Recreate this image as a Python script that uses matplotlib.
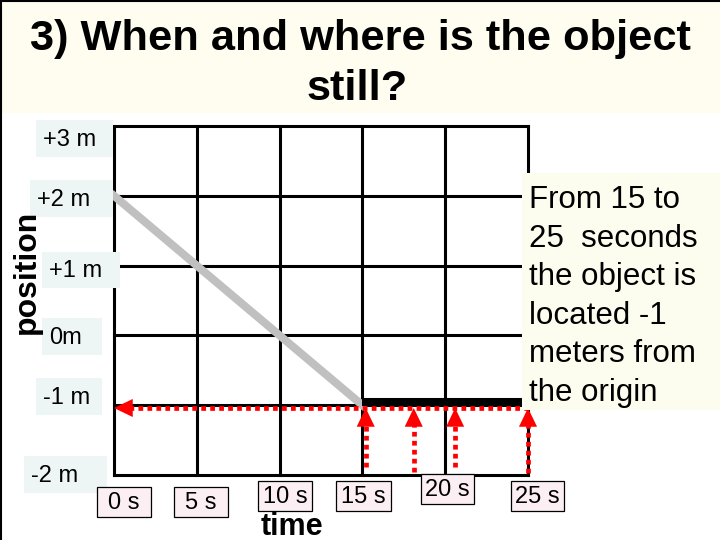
import matplotlib
matplotlib.use('Agg')
import matplotlib.pyplot as plt
from matplotlib.patches import Rectangle

plt.rcParams['font.family'] = ['Liberation Sans', 'DejaVu Sans']

# --- data ---
grid_times = [0, 5, 10, 15, 20, 25]
grid_positions = [-2, -1, 0, 1, 2, 3]
moving_t = [0, 15]
moving_x = [2, -1]
still_t = [15, 25]
still_x = [-0.95, -0.95]
marker_level = -1.04
arrow_times = [15.2, 18.1, 20.6, 25]
arrow_starts = [-1.88, -1.96, -1.88, -1.97]
time_labels = ['0 s', '5 s', '10 s', '15 s', '20 s', '25 s']
pos_labels = ['+3 m', '+2 m', '+1 m', '0m', '-1 m', '-2 m']
note = "From 15 to\n25  seconds\nthe object is\nlocated -1\nmeters from\nthe origin"

# label boxes in pixels (x0, y0, x1, y1)
pos_boxes = [(36, 120, 113, 157), (30, 180, 113, 217), (42, 252, 120, 288),
             (42, 318, 102, 355), (36, 378, 102, 415), (24, 456, 107, 493)]
time_boxes = [(97, 487, 151, 517), (174, 487, 228, 517), (258, 481, 312, 511),
              (336, 481, 391, 511), (421, 474, 474, 504), (511, 481, 564, 511)]

W, H = 720, 540
fig = plt.figure(figsize=(7.2, 5.4), dpi=100)
fig.patch.set_facecolor('white')

# grid axes: 0..25 s -> x 114..528 px, -2..3 m -> y 475..126 px
ax = fig.add_axes([114 / W, 1 - 475 / H, 414 / W, 349 / H])
ax.set_xlim(0, 25)
ax.set_ylim(-2, 3)
ax.axis('off')
ax.set_zorder(2)

for t in grid_times:
    ax.plot([t, t], [-2, 3], color='black', lw=2.2, clip_on=False, solid_capstyle='projecting')
for p in grid_positions:
    ax.plot([0, 25], [p, p], color='black', lw=2.2, clip_on=False, solid_capstyle='projecting')

ax.plot(moving_t, moving_x, color='#C0C0C0', lw=5.8, clip_on=False, zorder=3)
ax.plot(still_t, still_x, color='black', lw=5.8, clip_on=False, zorder=4, solid_capstyle='butt')

red = '#FF0000'
dots = (0, (1.0, 0.9))
head = dict(arrowstyle='-|>,head_length=1.35,head_width=0.65', color=red, lw=0,
            shrinkA=0, shrinkB=0)

# horizontal dotted arrow pointing to the position axis
ax.plot([0.9, grid_times[-1]], [marker_level, marker_level], color=red, lw=3.4,
        linestyle=dots, clip_on=False, zorder=5)
ax.annotate('', xy=(0, marker_level), xytext=(20, 0), textcoords='offset points',
            arrowprops=head, zorder=6, annotation_clip=False)

# vertical dotted arrows pointing up from the time axis
for t, y0 in zip(arrow_times, arrow_starts):
    ax.plot([t, t], [y0, marker_level - 0.22], color=red, lw=3.4, linestyle=dots,
            clip_on=False, zorder=5)
    ax.annotate('', xy=(t, marker_level), xytext=(0, -20), textcoords='offset points',
                arrowprops=head, zorder=6, annotation_clip=False)

# overlay in pixel coordinates
fg = fig.add_axes([0, 0, 1, 1])
fg.set_xlim(0, W)
fg.set_ylim(H, 0)
fg.axis('off')
fg.set_zorder(3)
fg.patch.set_alpha(0)

# title band
fg.add_patch(Rectangle((0, 0), W, 113, facecolor='#FEFDF0', edgecolor='none'))
fg.plot([1, 1], [0, H], color='black', lw=1.5)
fg.plot([0, W], [1, 1], color='black', lw=1.5)
fg.text(360, 50, '3) When and where is the object', ha='center', va='baseline',
        fontsize=31.2, fontweight='bold')
fg.text(357, 100, 'still?', ha='center', va='baseline', fontsize=31.2, fontweight='bold')

for lab, (x0, y0, x1, y1) in zip(pos_labels, pos_boxes):
    fg.add_patch(Rectangle((x0, y0), x1 - x0, y1 - y0, facecolor='#EEF5F5', edgecolor='none'))
    fg.text(x0 + 7, (y0 + y1) / 2 + 1, lab, ha='left', va='center', fontsize=17)

for lab, (x0, y0, x1, y1) in zip(time_labels, time_boxes):
    fg.add_patch(Rectangle((x0, y0), x1 - x0, y1 - y0, facecolor='#FBEFF3',
                           edgecolor='black', lw=0.9))
    fg.text((x0 + x1) / 2, (y0 + y1) / 2 + 1, lab, ha='center', va='center', fontsize=17)

fg.text(292, 512, 'time', ha='center', va='top', fontsize=22, fontweight='bold')
fg.text(27, 272, 'position', ha='center', va='center', rotation=90, fontsize=23,
        fontweight='bold')

# explanation box
fg.add_patch(Rectangle((522, 173), W - 522, 237, facecolor='#FDFDEF', edgecolor='none'))
fg.text(529, 185, note, ha='left', va='top', fontsize=22.5, linespacing=1.37)

fig.savefig('out.png', dpi=100)
